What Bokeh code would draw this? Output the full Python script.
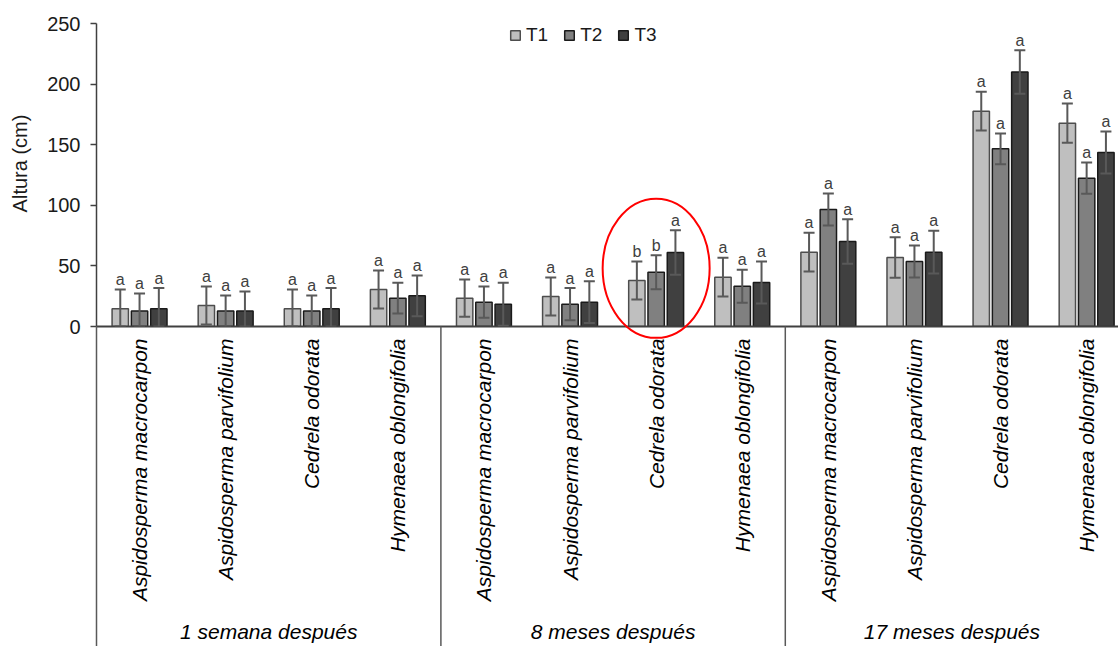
import math
from bokeh.plotting import figure
from bokeh.models import Range1d, FixedTicker, Whisker, TeeHead, ColumnDataSource
from bokeh.core.properties import value
from bokeh.embed import file_html
from bokeh.resources import INLINE

# ---------------- data ----------------
species = ["Aspidosperma macrocarpon", "Aspidosperma parvifolium",
           "Cedrela odorata", "Hymenaea oblongifolia"]
periods = ["1 semana después", "8 meses después", "17 meses después"]
treatments = ["T1", "T2", "T3"]

t1_mean = [14.6, 17.3, 14.6, 30.5, 23.4, 24.8, 38.0, 40.7, 61.4, 57.0, 177.8, 167.9]
t1_sd = [15.9, 15.7, 15.9, 15.7, 15.4, 15.7, 15.7, 16.0, 16.0, 16.7, 16.0, 16.2]
t2_mean = [12.7, 12.7, 12.7, 23.4, 20.1, 18.4, 44.8, 33.3, 96.6, 53.7, 146.7, 122.5]
t2_sd = [14.6, 12.9, 12.9, 12.7, 12.9, 13.3, 14.1, 13.6, 13.2, 13.2, 12.7, 12.9]
t3_mean = [14.6, 12.7, 14.6, 25.3, 18.4, 20.1, 61.1, 36.3, 70.2, 61.4, 210.2, 143.7]
t3_sd = [17.1, 16.2, 17.1, 16.8, 17.7, 17.3, 18.4, 17.4, 18.4, 17.7, 18.0, 17.3]
t1_letters = ["a", "a", "a", "a", "a", "a", "b", "a", "a", "a", "a", "a"]
t2_letters = ["a", "a", "a", "a", "a", "a", "b", "a", "a", "a", "a", "a"]
t3_letters = ["a", "a", "a", "a", "a", "a", "a", "a", "a", "a", "a", "a"]
y_ticks = [0, 50, 100, 150, 200, 250]
highlight_category = 6  # Cedrela odorata, 8 meses

# ---------------- styles ----------------
FONT = "Liberation Sans"
fills = ["#bfbfbf", "#808080", "#404040"]
outlines = ["#4d4d4d", "#1a1a1a", "#1a1a1a"]
offsets = [-0.224, 0.0, 0.224]
BAR_W = 0.19
X_END = 11.87
Y_END = 269.2
GROUP_LABEL_Y = -252
HIGHLIGHT_Y = 48

n_cat = len(species) * len(periods)
centers = [i + 0.5 for i in range(n_cat)]

p = figure(width=1118, height=646, output_backend="svg", toolbar_location=None,
           x_range=Range1d(0, X_END), y_range=Range1d(0, Y_END),
           min_border_left=96, min_border_right=0, min_border_top=0,
           min_border_bottom=320)
p.outline_line_color = None
p.xgrid.visible = False
p.ygrid.visible = False
p.background_fill_color = "white"
p.border_fill_color = "white"

means = [t1_mean, t2_mean, t3_mean]
sds = [t1_sd, t2_sd, t3_sd]
letters = [t1_letters, t2_letters, t3_letters]

for k in range(3):
    xs = [c + offsets[k] for c in centers]
    p.vbar(x=xs, top=means[k], width=BAR_W, bottom=0,
           fill_color=fills[k], line_color=outlines[k], line_width=1.5,
           legend_label=treatments[k])

for k in range(3):
    xs = [c + offsets[k] for c in centers]
    upper = [m + s for m, s in zip(means[k], sds[k])]
    lower = [max(m - s, 0) for m, s in zip(means[k], sds[k])]
    src = ColumnDataSource(dict(base=xs, upper=upper, lower=lower))
    w = Whisker(source=src, base="base", upper="upper", lower="lower",
                line_color="#595959", line_width=2, level="overlay",
                upper_head=TeeHead(size=11, line_color="#595959", line_width=2),
                lower_head=TeeHead(size=11, line_color="#595959", line_width=2))
    p.add_layout(w)
    p.text(x=xs, y=upper, text=letters[k], text_align="center",
           text_baseline="alphabetic", y_offset=-10,
           text_font=value(FONT), text_font_size="16px", text_color="#404040")

# highlight ellipse around one category
p.ellipse(x=[centers[highlight_category]], y=[HIGHLIGHT_Y], width=107, height=139,
          width_units="screen", height_units="screen", fill_color=None,
          line_color="#ff0000", line_width=2, level="overlay")

# group separators (extend below the axis)
bounds = [g * len(species) for g in range(len(periods))]
p.segment(x0=bounds, y0=[0] * len(bounds), x1=bounds, y1=[-400] * len(bounds),
          line_color="#595959", line_width=1.5, level="overlay")

# group (period) labels below the species labels
group_pos = []
for g in range(len(periods)):
    a = g * len(species)
    b = min((g + 1) * len(species), X_END)
    group_pos.append((a + b) / 2)
p.text(x=group_pos, y=[GROUP_LABEL_Y] * len(periods), text=periods,
       text_align="center", text_baseline="middle", level="overlay",
       text_font=value(FONT), text_font_style="italic", text_font_size="21px",
       text_color="#000000")

# y axis
ya = p.yaxis[0]
ya.ticker = FixedTicker(ticks=y_ticks)
ya.bounds = (0, 250)
ya.minor_tick_line_color = None
ya.major_tick_out = 6
ya.major_tick_in = 0
ya.axis_line_color = "#404040"
ya.axis_line_width = 1.5
ya.major_tick_line_color = "#404040"
ya.major_tick_line_width = 1.5
ya.major_label_text_font = FONT
ya.major_label_text_font_size = "20px"
ya.major_label_text_color = "#1a1a1a"
ya.major_label_standoff = 10
ya.axis_label = "Altura (cm)"
ya.axis_label_text_font = FONT
ya.axis_label_text_font_size = "20px"
ya.axis_label_text_font_style = "normal"
ya.axis_label_text_color = "#1a1a1a"
ya.axis_label_standoff = 13

# species axis
xa = p.xaxis[0]
xa.ticker = FixedTicker(ticks=centers)
xa.major_label_overrides = {c: species[i % len(species)] for i, c in enumerate(centers)}
xa.major_label_orientation = math.pi / 2
xa.major_label_text_font = FONT
xa.major_label_text_font_style = "italic"
xa.major_label_text_font_size = "21px"
xa.major_label_text_color = "#000000"
xa.major_label_standoff = 12
xa.major_tick_out = 0
xa.major_tick_in = 0
xa.minor_tick_line_color = None
xa.axis_line_color = "#404040"
xa.axis_line_width = 2

# legend
lg = p.legend[0]
lg.orientation = "horizontal"
lg.location = (413, 280)
lg.border_line_color = None
lg.background_fill_alpha = 0
lg.padding = 0
lg.margin = 0
lg.spacing = 15
lg.glyph_width = 12
lg.glyph_height = 12
lg.label_standoff = 5
lg.label_text_font = FONT
lg.label_text_font_size = "19px"
lg.label_text_color = "#1a1a1a"

open("out.html", "w").write(file_html(p, INLINE))
